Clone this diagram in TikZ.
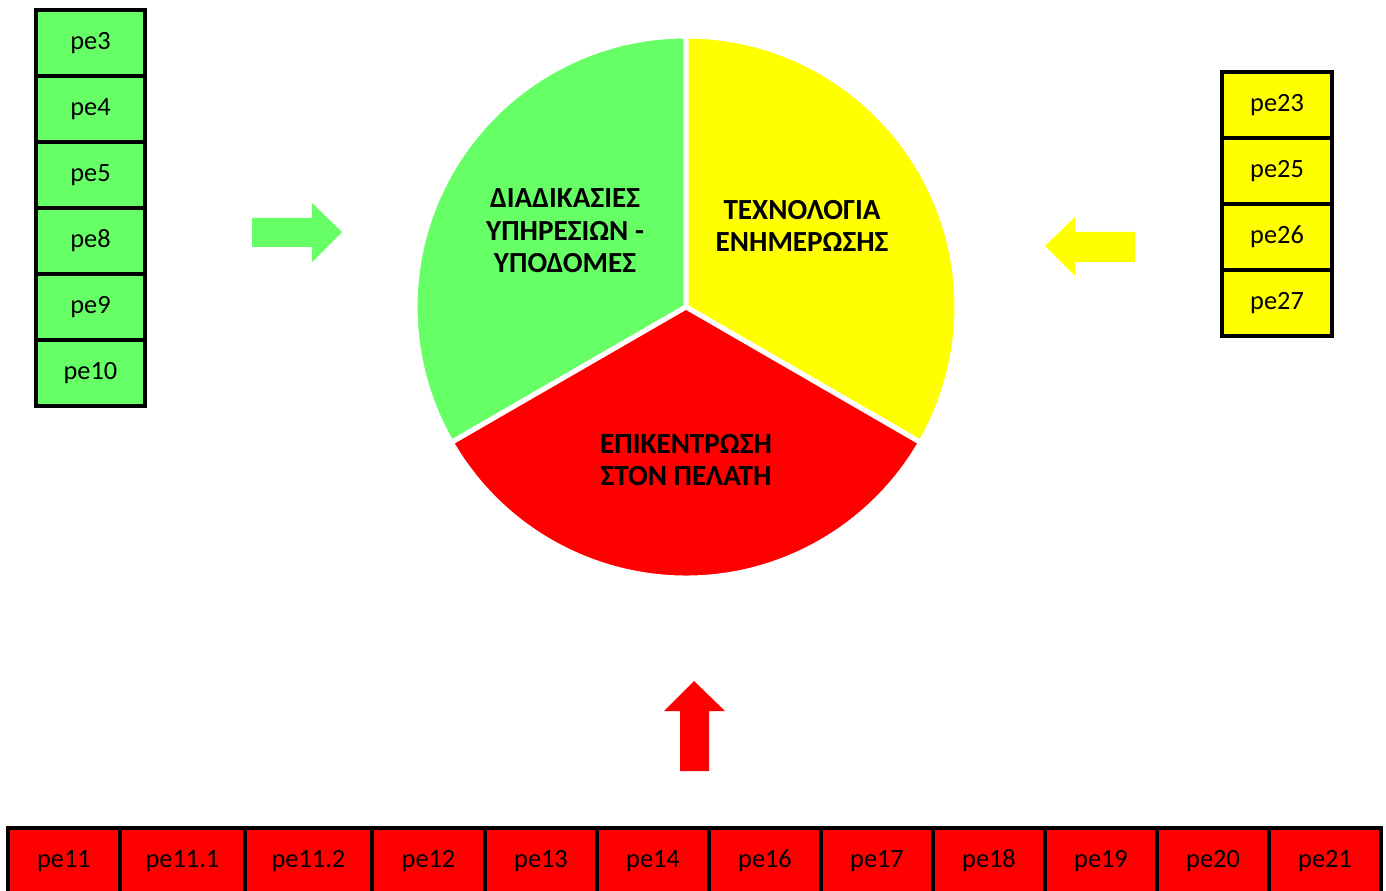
\documentclass[tikz,border=0pt]{standalone}
\usepackage{fontspec}
\setmainfont{Carlito}

\definecolor{pegreen}{HTML}{66FF66}
\definecolor{peyellow}{HTML}{FFFF00}
\definecolor{pered}{HTML}{FF0000}

\begin{document}
\begin{tikzpicture}[x=0.02cm, y=-0.02cm,
    pebox/.style={draw=black, line width=2.7pt, outer sep=0pt, inner sep=0pt,
        minimum height=1.32cm, font=\fontsize{15}{17}\selectfont},
    sector/.style={draw=white, line width=0.1cm, line join=round},
    pielabel/.style={align=center, font=\fontsize{16.6}{18.5}\selectfont\bfseries}]
            \useasboundingbox (0,0) rectangle (1386,891);

            % pie in three parts
            \coordinate (pie) at (686,307);
            \filldraw[sector, fill=pegreen] (pie) -- (686,36) arc [start angle=90, end angle=210, radius=5.42cm] -- cycle;
            \filldraw[sector, fill=peyellow] (pie) -- (686,36) arc [start angle=90, end angle=-30, radius=5.42cm] -- cycle;
            \filldraw[sector, fill=pered] (pie) -- (451.3,442.5) arc [start angle=210, end angle=330, radius=5.42cm] -- cycle;

            \node[pielabel] (diad) at (565,231) {ΔΙΑΔΙΚΑΣΙΕΣ\\ΥΠΗΡΕΣΙΩΝ -\\ΥΠΟΔΟΜΕΣ};
            \node[pielabel] (tech) at (802,226) {ΤΕΧΝΟΛΟΓΙΑ\\ΕΝΗΜΕΡΩΣΗΣ};
            \node[pielabel] (epik) at (686,460) {ΕΠΙΚΕΝΤΡΩΣΗ\\ΣΤΟΝ ΠΕΛΑΤΗ};

            % left column
            \foreach \lbl [count=\i from 0] in {pe3,pe4,pe5,pe8,pe9,pe10}{
                \node[pebox, fill=pegreen, minimum width=2.18cm] (g\i) at (90.5,{43+66*\i}) {\lbl};
            }

            % right column
            \foreach \lbl [count=\i from 0] in {pe23,pe25,pe26,pe27}{
                \node[pebox, fill=peyellow, minimum width=2.2cm] (y\i) at (1277,{105+66*\i}) {\lbl};
            }

            % bottom row
            \foreach \lbl/\a/\b [count=\i] in {pe11/8/120, pe11.1/120/245, pe11.2/245/372, pe12/372/485,
                    pe13/485/597, pe14/597/709, pe16/709/821, pe17/821/933,
                    pe18/933/1045, pe19/1045/1157, pe20/1157/1269, pe21/1269/1381}{
                \node[pebox, fill=pered, minimum width={(\b-\a)*0.02cm}] (r\i) at ({(\a+\b)/2},861) {\lbl};
            }

            % block arrows
            \fill[pegreen] (252,218) -- (312,218) -- (312,203) -- (342,232) -- (312,262) -- (312,247) -- (252,247) -- cycle;
            \fill[peyellow] (1135,232) -- (1075,232) -- (1075,217) -- (1045,246) -- (1075,276) -- (1075,262) -- (1135,262) -- cycle;
            \fill[pered] (680,771) -- (680,711) -- (664,711) -- (694,681) -- (725,711) -- (709,711) -- (709,771) -- cycle;

        \end{tikzpicture}
\end{document}
